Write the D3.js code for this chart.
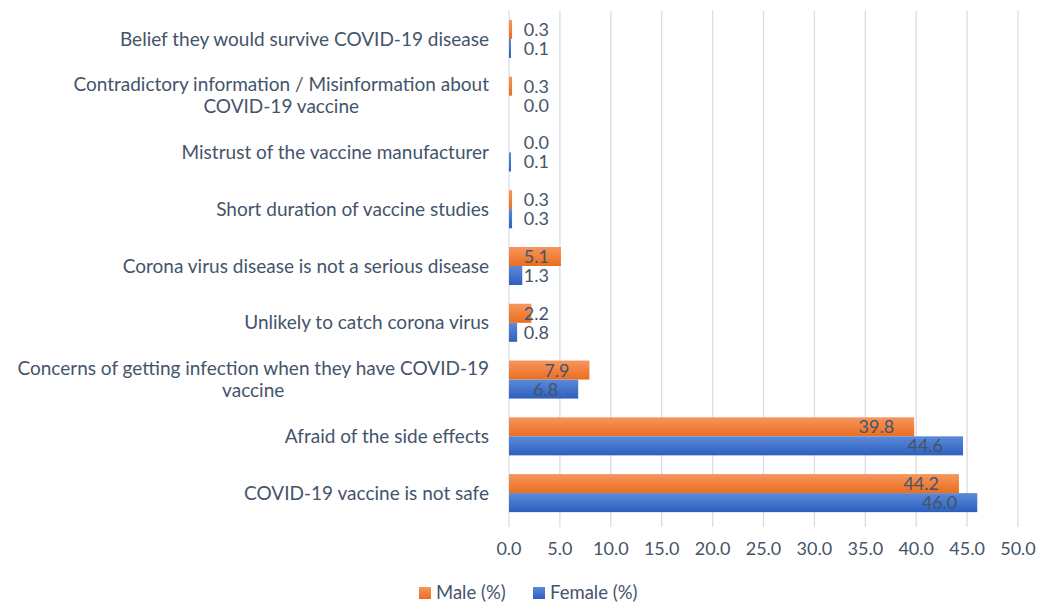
<!DOCTYPE html>
<html lang="en">
<head>
<meta charset="UTF-8">
<title>Reasons for vaccine hesitancy</title>
<script src="https://d3js.org/d3.v7.min.js"></script>
<style>
    body { margin: 0; background: #fff; }
    svg text { font-family: Lato, "Open Sans", sans-serif; fill: #44546a; }
    .grid line { stroke: #d9dde4; stroke-width: 1.3; }
</style>
</head>
<body>
<script>
    const width = 1038;
    const height = 604;

    // categories top to bottom, each one an array of wrapped lines
    const categories = [
        ["Belief they would survive COVID-19 disease"],
        ["Contradictory information / Misinformation about", "COVID-19 vaccine"],
        ["Mistrust of the vaccine manufacturer"],
        ["Short duration of vaccine studies"],
        ["Corona virus disease is not a serious disease"],
        ["Unlikely to catch corona virus"],
        ["Concerns of getting infection when they have COVID-19", "vaccine"],
        ["Afraid of the side effects"],
        ["COVID-19 vaccine is not safe"]
    ];
    const male = [0.3, 0.3, 0.0, 0.3, 5.1, 2.2, 7.9, 39.8, 44.2];
    const female = [0.1, 0.0, 0.1, 0.3, 1.3, 0.8, 6.8, 44.6, 46.0];
    const series = ["Male (%)", "Female (%)"];
    const xTicks = [0, 5, 10, 15, 20, 25, 30, 35, 40, 45, 50];

    const margin = {top: 10.5, left: 509, right: 20, bottom: 82};

    const svg = d3.select("body").append("svg")
        .attr("width", width).attr("height", height);

    const defs = svg.append("defs");
    function grad(id, c1, c2) {
        const g = defs.append("linearGradient").attr("id", id)
            .attr("x1", 0).attr("y1", 0).attr("x2", 0).attr("y2", 1);
        g.append("stop").attr("offset", "0%").attr("stop-color", c1);
        g.append("stop").attr("offset", "100%").attr("stop-color", c2);
    }
    grad("gMale", "#f5975f", "#eb6d1e");
    grad("gFemale", "#5c8ad9", "#2d5fbf");
    const fills = ["url(#gMale)", "url(#gFemale)"];

    const x = d3.scaleLinear().domain([0, 50]).range([margin.left, 1018]);
    const y = d3.scaleBand().domain(d3.range(categories.length))
        .range([margin.top, 521.5]).paddingInner(0.33).paddingOuter(0.165);
    const sub = d3.scaleBand().domain([0, 1]).range([0, y.bandwidth()]);

    // gridlines
    svg.append("g").attr("class", "grid")
        .selectAll("line").data(xTicks).enter().append("line")
        .attr("x1", d => x(d)).attr("x2", d => x(d))
        .attr("y1", margin.top).attr("y2", 527);

    // tick labels
    svg.append("g").selectAll("text").data(xTicks).enter().append("text")
        .attr("x", d => x(d)).attr("y", 549)
        .attr("dy", "0.35em")
        .attr("text-anchor", "middle")
        .style("font-size", "18px")
        .text(d => d3.format(".1f")(d));

    // category labels
    const cat = svg.append("g").selectAll("g").data(categories).enter().append("g");
    cat.each(function(lines, i) {
        const g = d3.select(this);
        const lh = 22;
        const y0 = y(i) + y.bandwidth() / 2 - (lines.length - 1) * lh / 2;
        const t = g.append("text")
            .style("font-size", "19px")
            .attr("text-anchor", "middle");
        lines.forEach((l, k) => {
            t.append("tspan").attr("x", 0).attr("y", y0 + k * lh).attr("dy", "0.35em").text(l);
        });
        const w = d3.max(t.selectAll("tspan").nodes(), n => n.getComputedTextLength());
        t.attr("transform", `translate(${489 - w / 2},0)`);
    });

    // bars and value labels
    const rows = categories.map((c, i) => [male[i], female[i]]);
    const row = svg.append("g").selectAll("g").data(rows).enter().append("g")
        .attr("transform", (d, i) => `translate(0,${y(i)})`);

    row.selectAll("rect").data(d => d).enter().append("rect")
        .attr("x", x(0))
        .attr("y", (d, j) => sub(j))
        .attr("height", sub.bandwidth())
        .attr("width", d => Math.max(x(d) - x(0), d > 0 ? 2 : 0))
        .attr("fill", (d, j) => fills[j]);

    row.selectAll("text").data(d => d).enter().append("text")
        .attr("x", d => Math.max(x(d) - 20, x(0) + 40))
        .attr("y", (d, j) => sub(j) + sub.bandwidth() / 2)
        .attr("dy", "0.36em")
        .attr("text-anchor", "end")
        .style("font-size", "18px")
        .text(d => d3.format(".1f")(d));

    // legend
    const legend = svg.append("g").attr("transform", "translate(419,593)");
    const lx = [0, 114];
    series.forEach((s, j) => {
        legend.append("rect").attr("x", lx[j]).attr("y", -6)
            .attr("width", 12).attr("height", 12).attr("fill", fills[j]);
        legend.append("text").attr("x", lx[j] + 17).attr("y", 0).attr("dy", "0.35em")
            .style("font-size", "18.5px").text(s);
    });
</script>
</body>
</html>
